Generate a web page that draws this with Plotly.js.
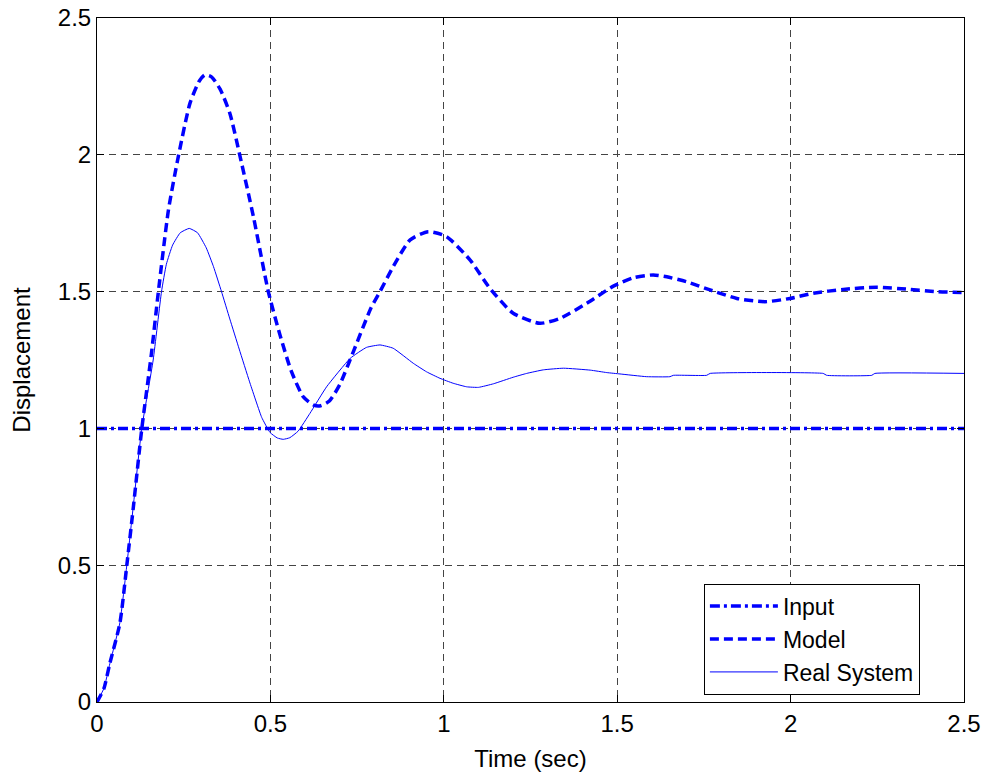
<!DOCTYPE html>
<html>
<head>
<meta charset="utf-8">
<script src="https://cdn.plot.ly/plotly-3.0.1.min.js"></script>
<style>html,body{margin:0;padding:0;background:#fff;}#chart{width:985px;height:773px;}</style>
</head>
<body>
<div id="chart"></div>
<script>
// Input (step)
const inputTime = [0, 2.5];
const inputValue = [1, 1];

// Model response
const modelTime = [0, 0.02, 0.037, 0.066, 0.086, 0.105, 0.129, 0.157, 0.177, 0.206, 0.235, 0.268, 0.295, 0.311, 0.33, 0.355, 0.383, 0.412, 0.451, 0.494, 0.528, 0.56, 0.595, 0.625, 0.645, 0.67, 0.7, 0.739, 0.79, 0.816, 0.854, 0.903, 0.955, 1.008, 1.076, 1.133, 1.2, 1.277, 1.335, 1.412, 1.489, 1.547, 1.604, 1.643, 1.7, 1.768, 1.845, 1.926, 1.998, 2.065, 2.152, 2.248, 2.344, 2.421, 2.5];
const modelValue = [0, 0.05, 0.141, 0.288, 0.5, 0.714, 0.997, 1.274, 1.5, 1.798, 1.997, 2.188, 2.27, 2.292, 2.285, 2.24, 2.152, 1.997, 1.774, 1.5, 1.34, 1.21, 1.115, 1.085, 1.083, 1.1, 1.16, 1.28, 1.44, 1.5, 1.591, 1.689, 1.719, 1.701, 1.615, 1.512, 1.421, 1.384, 1.402, 1.457, 1.52, 1.551, 1.561, 1.554, 1.536, 1.506, 1.475, 1.463, 1.475, 1.494, 1.508, 1.516, 1.508, 1.5, 1.496];

// Real system response
const realTime = [0, 0.02, 0.037, 0.066, 0.086, 0.105, 0.129, 0.162, 0.186, 0.2, 0.218, 0.24, 0.266, 0.29, 0.315, 0.336, 0.359, 0.383, 0.41, 0.44, 0.475, 0.499, 0.52, 0.537, 0.556, 0.58, 0.614, 0.662, 0.73, 0.777, 0.816, 0.854, 0.912, 0.95, 0.989, 1.027, 1.066, 1.1, 1.143, 1.2, 1.239, 1.287, 1.345, 1.422, 1.47, 1.508, 1.585, 1.652, 1.662, 1.758, 1.768, 2.094, 2.104, 2.234, 2.243, 2.5];
const realValue = [0, 0.05, 0.14, 0.29, 0.5, 0.72, 1.0, 1.25, 1.5, 1.6, 1.67, 1.715, 1.731, 1.715, 1.66, 1.591, 1.5, 1.40, 1.29, 1.17, 1.04, 0.985, 0.965, 0.96, 0.966, 0.99, 1.055, 1.152, 1.256, 1.296, 1.305, 1.293, 1.238, 1.207, 1.183, 1.165, 1.152, 1.15, 1.163, 1.187, 1.201, 1.214, 1.22, 1.213, 1.204, 1.199, 1.189, 1.189, 1.194, 1.194, 1.201, 1.201, 1.194, 1.194, 1.201, 1.201];

const seriesNames = ['Input', 'Model', 'Real System'];
const xTicks = [0, 0.5, 1, 1.5, 2, 2.5];
const yTicks = [0, 0.5, 1, 1.5, 2, 2.5];

const traces = [
  {x: inputTime, y: inputValue, name: seriesNames[0], mode: 'lines',
   line: {color: '#0000ff', width: 3.5, dash: '10px,4px,3px,4px'}},
  {x: modelTime, y: modelValue, name: seriesNames[1], mode: 'lines',
   line: {color: '#0000ff', width: 3.5, dash: '9px,5px', shape: 'spline', smoothing: 0.6}},
  {x: realTime, y: realValue, name: seriesNames[2], mode: 'lines',
   line: {color: '#0000ff', width: 1, shape: 'spline', smoothing: 0.4}}
];

const FONT = 'Liberation Sans, Arial, sans-serif';
const axisCommon = {
  showline: true, linecolor: '#000', linewidth: 1, mirror: 'ticks',
  ticks: 'inside', ticklen: 7, tickcolor: '#000', tickwidth: 1,
  showgrid: true, gridcolor: '#444', gridwidth: 1, griddash: '7px,5px',
  zeroline: false, tickfont: {family: FONT, size: 24, color: '#000'},
  fixedrange: true
};

const layout = {
  width: 985, height: 773,
  margin: {l: 97, r: 21, t: 18, b: 71},
  paper_bgcolor: '#fff', plot_bgcolor: '#fff',
  font: {family: FONT, color: '#000'},
  showlegend: true,
  legend: {
    x: 0.700, y: 0.173, xanchor: 'left', yanchor: 'top',
    bgcolor: '#fff', bordercolor: '#000', borderwidth: 1,
    font: {family: FONT, size: 23, color: '#000'},
    itemwidth: 68,
    tracegroupgap: 0
  },
  xaxis: Object.assign({}, axisCommon, {
    range: [0, 2.5], tickvals: xTicks, ticktext: xTicks.map(String),
    title: {text: 'Time (sec)', font: {family: FONT, size: 24, color: '#000'}, standoff: 14}
  }),
  yaxis: Object.assign({}, axisCommon, {
    range: [0, 2.5], tickvals: yTicks, ticktext: yTicks.map(String),
    title: {text: 'Displacement', font: {family: FONT, size: 24, color: '#000'}, standoff: 20}
  })
};

Plotly.newPlot('chart', traces, layout, {displayModeBar: false, staticPlot: true});
</script>
</body>
</html>
